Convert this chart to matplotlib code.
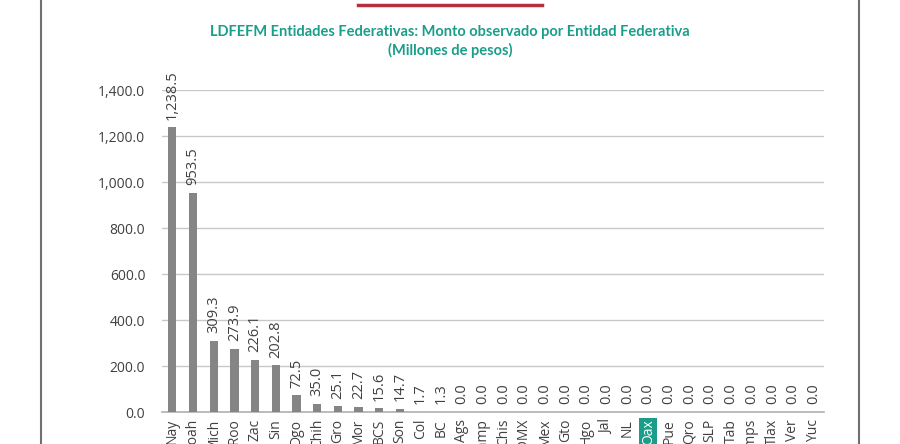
import matplotlib.pyplot as plt
from matplotlib.lines import Line2D
import numpy as np

# Entidades federativas y monto observado (millones de pesos)
entidades = ['Nay', 'Coah', 'Mich', 'QRoo', 'Zac', 'Sin', 'Dgo', 'Chih', 'Gro', 'Mor',
             'BCS', 'Son', 'Col', 'BC', 'Ags', 'Camp', 'Chis', 'CDMX', 'Mex', 'Gto',
             'Hgo', 'Jal', 'NL', 'Oax', 'Pue', 'Qro', 'SLP', 'Tab', 'Tamps', 'Tlax',
             'Ver', 'Yuc']
montos = [1238.5, 953.5, 309.3, 273.9, 226.1, 202.8, 72.5, 35.0, 25.1, 22.7,
          15.6, 14.7, 1.7, 1.3, 0.0, 0.0, 0.0, 0.0, 0.0, 0.0,
          0.0, 0.0, 0.0, 0.0, 0.0, 0.0, 0.0, 0.0, 0.0, 0.0,
          0.0, 0.0]
yticks = [0, 200, 400, 600, 800, 1000, 1200, 1400]

plt.rcParams['font.family'] = ['Open Sans', 'DejaVu Sans']
txt = '#404040'
teal = '#1a9e8a'

fig = plt.figure(figsize=(9, 4.44), dpi=100)
ax = fig.add_axes([162 / 900, 1 - 412 / 444, 662 / 900, 322 / 444])

x = np.arange(len(entidades))
ax.bar(x, montos, width=0.4, color='#858585', zorder=3)

for xi, v in zip(x, montos):
    ax.annotate(f'{v:,.1f}', (xi, v), xytext=(0, 5.5), textcoords='offset points',
                rotation=90, ha='center', va='bottom', fontsize=10.5, color=txt)

ax.set_xlim(-0.5, len(entidades) - 0.5)
ax.set_ylim(0, 1400)
ax.set_yticks(yticks)
ax.set_yticklabels([f'{t:,.1f}' for t in yticks])
ax.set_xticks(x)
ax.set_xticklabels(entidades, rotation=90, va='top', ha='center')
ax.tick_params(axis='both', length=0, labelsize=10, labelcolor=txt)
ax.tick_params(axis='y', pad=12)
ax.tick_params(axis='x', pad=5)

for lbl in ax.get_xticklabels():
    if lbl.get_text() == 'Oax':
        lbl.set_color('white')
        lbl.set_bbox(dict(facecolor=teal, edgecolor='none', pad=1))

ax.grid(axis='y', color='#c8c8c8', linewidth=1, zorder=0)
for s in ['left', 'right', 'top']:
    ax.spines[s].set_visible(False)
ax.spines['bottom'].set_color('#b0b0b0')
ax.spines['bottom'].set_linewidth(1.2)

fig.text(0.5, 1 - 32 / 444, 'LDFEFM Entidades Federativas: Monto observado por Entidad Federativa',
         ha='center', va='center', fontsize=10.5, fontweight='bold', color=teal, family='Lato')
fig.text(0.5, 1 - 50 / 444, '(Millones de pesos)',
         ha='center', va='center', fontsize=10.5, fontweight='bold', color=teal, family='Lato')

# marco de la página
fig.add_artist(Line2D([41 / 900, 41 / 900], [0, 1], color='#707070', linewidth=1.5))
fig.add_artist(Line2D([859 / 900, 859 / 900], [0, 1], color='#707070', linewidth=1.5))
fig.add_artist(Line2D([358 / 900, 542 / 900], [1 - 5 / 444, 1 - 5 / 444], color='#b5303e', linewidth=2.5))

fig.savefig('out.png', dpi=100)
